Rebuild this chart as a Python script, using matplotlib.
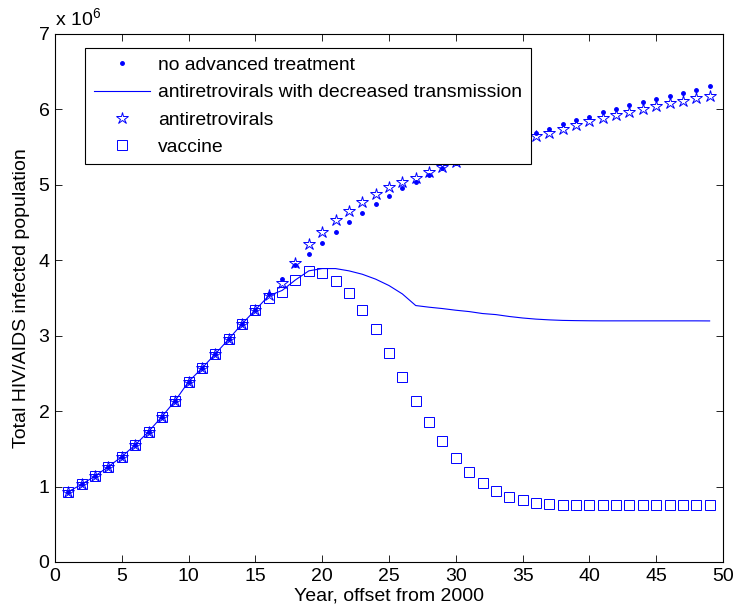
import matplotlib
matplotlib.use("Agg")
import matplotlib.pyplot as plt

plt.rcParams['font.family'] = ['Liberation Sans', 'DejaVu Sans']
plt.rcParams['mathtext.fontset'] = 'custom'
plt.rcParams['mathtext.rm'] = 'Liberation Sans'
plt.rcParams['mathtext.it'] = 'Liberation Sans:italic'

# years since 2000
years = list(range(1, 50))

# infected population, in millions
no_treatment = [0.932, 1.03, 1.14, 1.264, 1.397, 1.552, 1.728, 1.927, 2.139, 2.391,
                2.569, 2.759, 2.954, 3.157, 3.342, 3.55, 3.75, 3.94, 4.085, 4.235,
                4.373, 4.505, 4.625, 4.748, 4.854, 4.956, 5.04, 5.13, 5.22, 5.29,
                5.37, 5.44, 5.51, 5.57, 5.63, 5.686, 5.74, 5.805, 5.858, 5.906,
                5.96, 6.008, 6.057, 6.097, 6.14, 6.18, 6.224, 6.264, 6.304]

arv_decreased = [0.932, 1.03, 1.14, 1.264, 1.397, 1.552, 1.728, 1.927, 2.139, 2.391,
                 2.569, 2.759, 2.954, 3.157, 3.342, 3.53, 3.60, 3.74, 3.86, 3.89,
                 3.89, 3.86, 3.815, 3.75, 3.665, 3.554, 3.40, 3.378, 3.36, 3.338,
                 3.32, 3.294, 3.28, 3.255, 3.235, 3.22, 3.21, 3.203, 3.2, 3.198,
                 3.197, 3.197, 3.197, 3.197, 3.197, 3.197, 3.197, 3.197, 3.196]

arv = [0.932, 1.03, 1.14, 1.264, 1.397, 1.552, 1.728, 1.927, 2.139, 2.391,
       2.569, 2.759, 2.954, 3.157, 3.342, 3.541, 3.70, 3.96, 4.22, 4.38,
       4.536, 4.66, 4.77, 4.877, 4.965, 5.036, 5.097, 5.177, 5.243, 5.30,
       5.36, 5.42, 5.48, 5.54, 5.60, 5.65, 5.694, 5.743, 5.796, 5.84,
       5.885, 5.928, 5.97, 6.008, 6.048, 6.083, 6.118, 6.15, 6.184]

vaccine = [0.932, 1.03, 1.14, 1.264, 1.397, 1.552, 1.728, 1.927, 2.139, 2.391,
           2.569, 2.759, 2.954, 3.157, 3.342, 3.497, 3.585, 3.74, 3.86, 3.83,
           3.727, 3.563, 3.342, 3.086, 2.776, 2.458, 2.135, 1.853, 1.605, 1.375,
           1.19, 1.044, 0.942, 0.866, 0.818, 0.787, 0.769, 0.760, 0.755, 0.752,
           0.752, 0.752, 0.752, 0.752, 0.752, 0.752, 0.752, 0.752, 0.752]

labels = ["no advanced treatment", "antiretrovirals with decreased transmission",
          "antiretrovirals", "vaccine"]

fig = plt.figure(figsize=(7.35, 6.14), dpi=100)
ax = fig.add_axes([55/735, 52/614, 668/735, 528/614])

ax.plot(years, no_treatment, '.', color='b', markersize=5, label=labels[0])
ax.plot(years, arv_decreased, '-', color='b', linewidth=0.8, label=labels[1])
ax.plot(years, arv, '*', color='b', markerfacecolor='none', markersize=9,
        markeredgewidth=0.7, label=labels[2])
ax.plot(years, vaccine, 's', color='b', markerfacecolor='none', markersize=7,
        markeredgewidth=0.7, label=labels[3])

ax.set_xlim(0, 50)
ax.set_ylim(0, 7)
ax.set_xticks(range(0, 51, 5))
ax.set_yticks(range(0, 8))
ax.tick_params(direction='in', top=True, right=True, length=5, width=0.6,
               labelsize=14, pad=4)
for s in ax.spines.values():
    s.set_linewidth(0.8)

ax.set_xlabel("Year, offset from 2000", fontsize=14, labelpad=2)
ax.set_ylabel("Total HIV/AIDS infected population", fontsize=14, labelpad=6)

fig.text(55/735, 1 - 25/614, r"x 10$^{6}$", fontsize=14, va='baseline', ha='left')

leg = ax.legend(loc='upper left', bbox_to_anchor=((85-55)/668, (562-48)/528),
                borderaxespad=0, fontsize=13.9, fancybox=False, framealpha=1,
                edgecolor='black', handlelength=2.9, handletextpad=0.45,
                labelspacing=0.5, borderpad=0.45)
leg.get_frame().set_linewidth(0.8)

fig.savefig("out.png", dpi=100)
